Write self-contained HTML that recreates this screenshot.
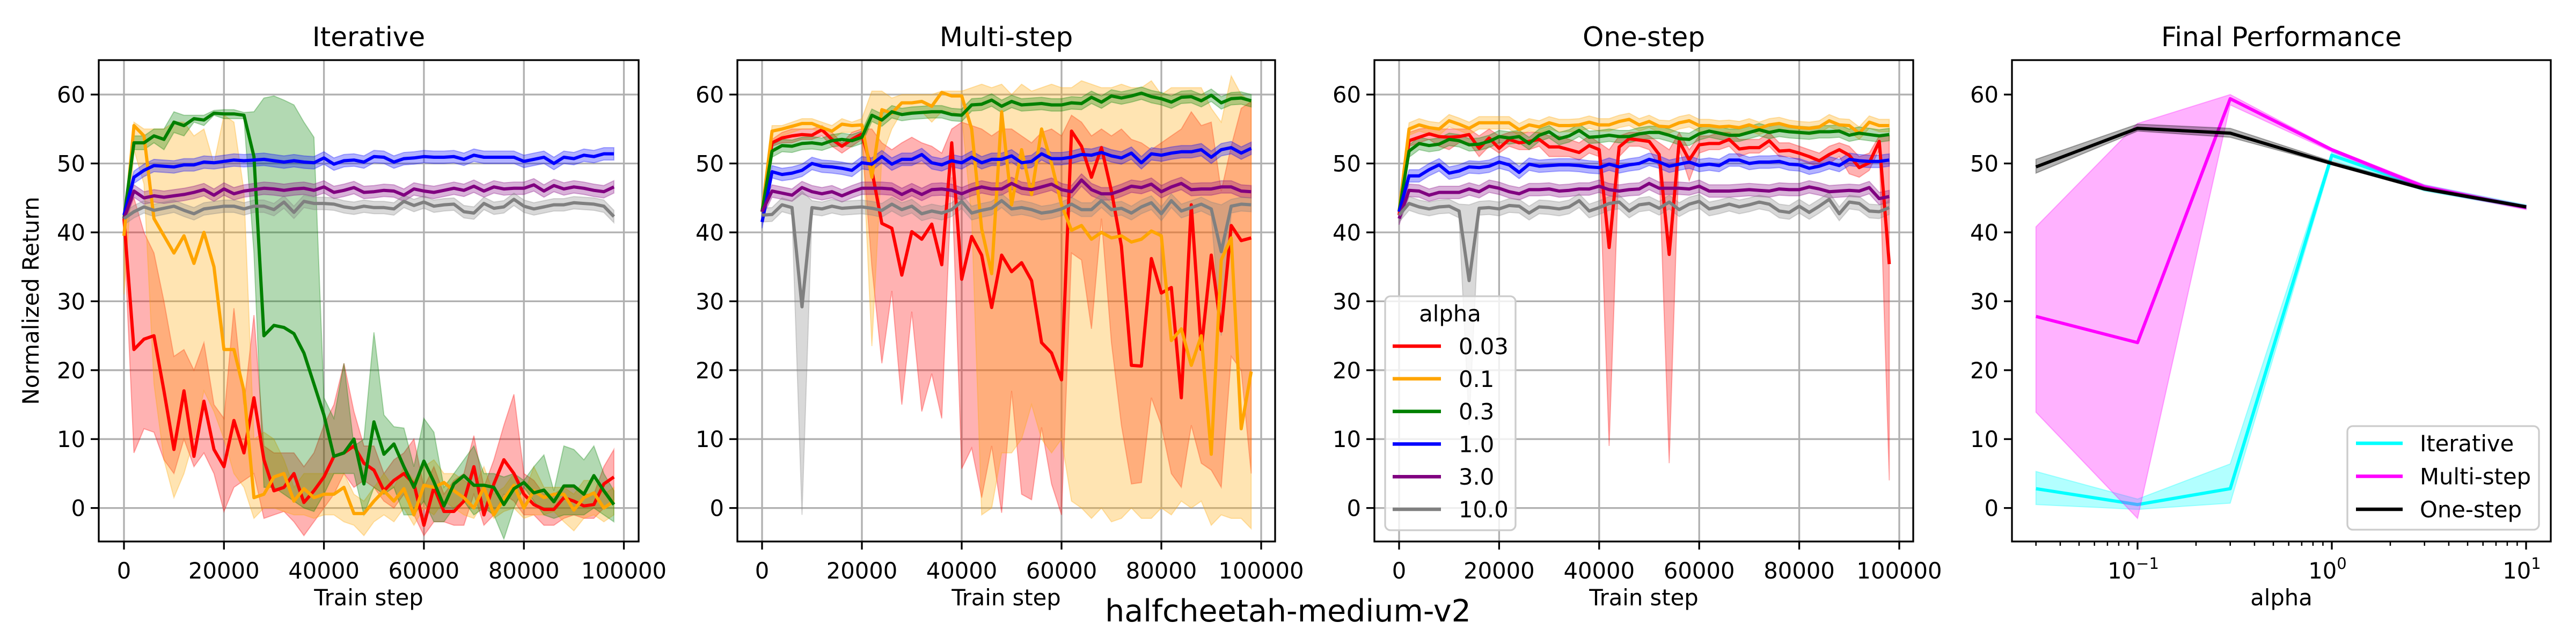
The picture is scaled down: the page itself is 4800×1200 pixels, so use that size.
<!DOCTYPE html>
<html><head><meta charset="utf-8">
<style>
html,body{margin:0;padding:0;background:#fff;}
svg{display:block;font-family:"DejaVu Sans","Liberation Sans",sans-serif;}
</style></head>
<body>
<svg id="fig" width="4800" height="1200" viewBox="0 0 4800 1200" xmlns="http://www.w3.org/2000/svg">
<rect width="4800" height="1200" fill="#fff"/>
<text x="2400" y="1158" font-size="57" text-anchor="middle">halfcheetah-medium-v2</text>
</svg>
<script>
// ---------- data ----------
const trainSteps = [0,2000,4000,6000,8000,10000,12000,14000,16000,18000,20000,22000,24000,26000,28000,30000,32000,34000,36000,38000,40000,42000,44000,46000,48000,50000,52000,54000,56000,58000,60000,62000,64000,66000,68000,70000,72000,74000,76000,78000,80000,82000,84000,86000,88000,90000,92000,94000,96000,98000];
const alphaNames = ["0.03","0.1","0.3","1.0","3.0","10.0"];
const xTicks = [0,20000,40000,60000,80000,100000];
const yTicks = [0,10,20,30,40,50,60];

// Iterative
const itRed = [42,23,24.5,25,17,8.5,17,7.5,15.5,8.5,6,12.7,8,16,7,2.5,3,5,0.8,2.5,4.5,7.5,8,9,6.5,5.5,2.5,4,5,3.5,-2.5,3,-0.5,-0.5,1,6,-1,3.5,7,5,2,0.5,-0.2,-0.2,1.5,1,0.3,0.5,3.5,4.5];
const itRedHi = [43,45,40,37,30,22,23,20,24,15,13,29,15,28,9,8,8,8,6,8,12,15,21,14,9,9,5,7,8,10,3,6,2,4,5,10.5,3,7,12,16.5,5,4,2,2,3,3,2,2,6,8.5];
const itRedLo = [40,8,11.5,11,7,5,10,6,8,5,-0.5,3,4,5,-1.5,-1,-0.5,-2,-4,-2,0,2,5,3,4,3,1,0,2,-1,-4,-2,-2,-2.5,-2.5,2,-2.5,-1,2,1,-1,-1,-2.5,-2.5,-1.5,-1,-1.5,-1.5,0,1];
const itOrange = [39.5,55.5,54,42,39.5,37,39.5,35.5,40,35,23,23,17,1.5,2,4.5,5,1,2.8,1.5,2,2,3,-0.8,-0.8,1,2.5,1,2.8,-1,3.3,3,3.7,2.5,1.5,0,3,-1,1.3,3.3,0,2.5,1.5,2,2,-0.3,1.5,2.2,0,1];
const itOrangeHi = [41,56,55,55,55,56,56,54,55,50,57,56,46,10,11,10,7,3,5,5,5,5,5,2,1,3,5,3,6,4,6,7,5,5,4,3,6,2,3,5,2,6,3,3,3,2,4,4,2,3];
const itOrangeLo = [31,52,47,18,7,1.5,5,10,17,14,10,5,3,-1.5,0,0,-0.5,-1,-1,-1.5,-1,-1,-2,-2.5,-4,-2,-1,-2,0,-2.5,0,-1,1,0,-1,-1.5,1,-1.5,-0.5,0,-1.5,-1,-1,-0.5,-2,-3.3,-1.5,-1,-2,-1];
const itGreen = [42,53,53,54,53.5,56,55.5,56.5,56.3,57.3,57.2,57.2,57,51,25,26.5,26.2,25.3,22.5,18,13.5,7.5,8,10,3.5,12.5,7.8,9.3,6,3,6.8,3.8,0.3,3.5,4.7,3.3,3.3,3,0.5,2.8,3.7,2.2,2.6,0.9,3.2,3.2,2,4.7,2.5,0.5];
const itGreenHi = [43,54,54,55,55,57.5,57,57,57,57.7,57.8,57.8,57.4,57.5,59.5,59.8,59.2,58.5,56,53.8,16,13,21,9,10,25.5,13.5,11.8,11.6,6,13,11,3,5,7,9,5,5,4.5,5,4,6,7.7,2.5,9,8.5,7,9,5,2.5];
const itGreenLo = [41,52,52,53,52,54.5,54,56,55.5,57,56.5,56.5,56.5,37,3,3,2,1,0,-0.5,2,5,5,5,-1,3,2,3,-1,-1,1,-2,-2,0,1,-1,0,-1,-4.5,0,3,1,-1,-1.5,-1,-1,-1,0,-1,-2];
const itBlue = [42.5,48,49,49.7,49.6,49.5,49.8,49.8,50.2,50.1,50.3,50.5,50.4,50.5,50.6,50.4,50.2,50.4,50.2,50.1,50.8,49.9,50.4,50.5,50.2,51,50.9,50.2,50.7,50.8,51,50.9,50.9,51,50.6,51.2,50.9,50.9,50.9,50.9,50.3,50.6,50.9,50,50.9,50.7,51.2,51,51.4,51.4];
const itPurple = [42,46,45,45.3,45.1,45.3,45.5,45.8,46.2,45.4,46.3,45.6,46,46.2,46.4,46.3,46.1,46.3,46.4,46.1,46.6,45.8,46.1,46.5,45.8,45.9,46.1,46,45.4,46.3,46,45.8,46.1,46.4,46.1,46.7,46,46.6,46.3,46.4,46.4,46.9,46,46.8,46.3,46.6,46.4,46.1,45.9,46.6];
const itGray = [42,43,43.7,43.2,43.5,43.8,43.2,42.7,43.4,43.6,43.8,43.8,43.4,43.8,43.8,43.3,44.4,42.9,44.5,44.2,44.2,44.1,43.7,43.5,43.8,43.6,43.6,43.4,44.5,43.9,44.4,43.8,44,44.1,43,42.8,44.2,43.5,43.7,44.8,43.8,43.4,43.7,44,44,44.3,44.2,44.1,43.8,42.3];

// Multi-step
const msRed = [43,53,53.7,54,54.2,54.1,54.9,53.5,52.5,53.5,54.3,49,41.3,40.6,33.8,40.1,39,41.2,35.3,53,33.2,39.4,36.7,29.1,36.7,34.3,35.6,33,24,22.5,18.6,54.7,52.5,48,52.3,46,38,20.7,20.6,36.2,31.2,32,16,44,23,36.7,25.7,41,38.8,39.2];
const msRedHi = [43,53.5,54.5,55,55,55,55.5,54.5,53,54.5,55,55,53,52,53,53.8,53,52.5,51.5,55,56,55.5,55,54,55,55,54,53,54.5,55,54,57,56,54,55,54,55,53.5,53,52,53,54,55,57.5,55.5,56,46,52.5,58,59];
const msRedLo = [43,52.5,53,53,53.5,53.5,54,52.5,51.5,52.5,53.5,35,21,31.5,15,28.5,14,19.5,13,48,5.7,8.7,1.5,9,-0.7,17,2,1.2,11.7,3.5,-1,37,36,26,42,24,12,3.5,3.7,16,12,5,3,12,6.5,5.5,3,22,20,5];
const msOrange = [43,54.7,55,55.4,55.8,55.8,55.2,54.7,55.7,55.5,55.6,48,57.8,57.3,58.8,58.8,59,58.3,60.3,59.8,59.8,55,40.5,34,57.5,44,52,45.5,55,50,44,40.3,41,39,40,39.2,39.5,38.6,39,40.2,39.5,24.3,26,20.7,25,7.8,36,39.2,11.5,19.8];
const msOrangeHi = [43,55.5,55.5,56,56.5,56.5,56,55.5,56.5,56,56.5,60.5,60.5,59.5,60,60,60,60,60.5,60.5,60.5,61,61.5,61,61.5,60,61.5,60.5,61,61.5,61,61,62,61.5,61,61,61.5,61,61,62,60,61,61,61,61,58,56,62.7,60,59];
const msOrangeLo = [43,53,54,54.5,55,55,54.5,53.5,54.5,54.5,55,23.5,51,55,57.5,57.5,57.5,56,57.5,57.5,57,42,-1,0,8,8,10,15,10,8,10,1,0,-1.5,0,-2,-1.5,0,-1.5,-1.5,0,-1,1,0,1,-2.5,-1,-1.5,-1.5,-3];
const msGreen = [43,51.8,52.6,52.5,52.9,53,52.8,53.3,53.5,53.3,53.8,57,56.3,57.5,57.1,57.3,57.4,57.5,57.5,57.1,57,58.5,58.6,59.2,58.3,59,58.5,58.6,58.7,58.5,58.5,58.8,58.7,59.6,58.9,59.8,59.5,59.8,60.2,59.7,59.4,58.9,59.6,59.7,59.1,59.9,58.8,59.4,59.5,59.1];
const msBlue = [41.5,48.8,48.4,48.6,49,50,49.6,49.5,49.3,49,50.1,49.9,51,49.9,50.6,50.6,51.3,50.1,49.8,50.4,50.1,50.9,50.1,50.6,50.6,51.1,50.1,50.3,51.4,50.7,50.7,50.9,51.3,51.2,51.6,51.1,50.8,51.5,50.1,51.4,51.2,51.5,51.7,51.7,52,50.9,52,52.3,51.5,52.2];
const msPurple = [43,46,45.7,45.4,46.5,45.9,45.6,45.9,45.3,45.9,46.4,46.4,46.4,46.3,45.5,46.2,45.5,46.2,46.3,46.1,45.6,46.2,46.6,46.3,46.3,47.1,46.4,46.2,46.6,47,46.2,45.9,47.6,46.2,45.6,45.6,46.1,46.7,46.5,47,45.9,46.6,47.1,46.2,46.3,46.3,46.6,46.6,46,45.9];
const msGray = [42.5,42.6,44,43.6,29.2,43.6,43.4,43.8,43.5,43.6,43.7,43.5,43.2,44.1,43.3,43.8,42.7,43.1,42.8,43.3,44.5,42.8,43.2,43.5,44.6,43.4,43.6,43.3,42.8,43,43.4,44.1,43.3,43.3,44.6,43.3,43.5,42.8,43.7,44.3,42.7,44.6,43.1,43.6,44.1,43.4,37.2,43.8,44.1,44];
const msGrayHi = [43.5,43.6,45,44.6,46,44.6,44.4,44.8,44.5,44.6,44.7,44.5,44.2,45.1,44.3,44.8,43.7,44.1,43.8,44.3,45.5,43.8,44.2,44.5,45.6,44.4,44.6,44.3,43.8,44,44.4,45.1,44.3,44.3,45.6,44.3,44.5,43.8,44.7,45.3,43.7,45.6,44.1,44.6,45.1,44.4,44,44.8,45.1,45];
const msGrayLo = [41.5,41.6,43,42.6,-1,42.6,42.4,42.8,42.5,42.6,42.7,42.5,42.2,43.1,42.3,42.8,41.7,42.1,41.8,42.3,43.5,41.8,42.2,42.5,43.6,42.4,42.6,42.3,41.8,42,42.4,43.1,42.3,42.3,43.6,42.3,42.5,41.8,42.7,43.3,41.7,43.6,42.1,42.6,43.1,42.4,25,42.8,43.1,43];

// One-step
const osRed = [42.5,53.3,53.8,54.3,53.9,53.8,53.9,54.2,52.2,53.7,52.2,53.5,53,53.2,53.5,52.4,52.4,52,51.6,52.6,52,37.8,52.4,53.6,53.4,53.2,51.3,36.8,53.2,50.5,52.7,52.9,52.9,53.5,52.1,52.3,52.3,53.3,51.8,51.9,51.5,51,50.4,51.3,52,51.2,49.4,50.1,53.2,35.4];
const osRedHi = [43,54.5,55,55.2,55,55,55,55,54,55,54,54.5,54.5,54.5,54.5,54,54,53.5,53,54,53,52,54,54.5,54.5,54,53,52,54.5,52,54,54,54.5,54.5,53.5,53.5,53.5,54.5,53,53,52.5,52,51.5,52.5,53,52.5,51,51.5,54,54];
const osRedLo = [42,52.5,53,53.5,52.5,52,53,53,51,52.5,51.5,52.5,52,52,52.5,51,51,51,50.5,51.5,51,9,51,52.5,52.5,52,49.5,6.5,52,47.5,51.5,52,52,52.5,51,51.5,51.5,52.5,51,51,50.5,50,49.5,50,51,48.5,48,49,52,4];
const osOrange = [43,55,55.6,55.2,55,56.2,55.7,55.1,55.9,55.9,55.9,55.9,54.9,55.6,55.3,55.9,55.5,55.5,55.6,56,55.6,55.6,56.1,56.4,55.6,56.1,55.4,55.3,55.9,56.2,55.5,55.5,55.3,55.4,55.2,55.6,55.1,55.6,55.8,55.4,55.2,55.1,55.3,56.2,55.6,55.5,54.4,56,55.5,55.5];
const osGreen = [43,51.8,52.9,52.6,52.8,53.5,53.3,52.7,52.8,53.2,53.9,53.7,53.9,52.9,54.1,54.6,53.6,54,54.8,53.8,53.9,54.1,53.9,53.9,54.3,54.5,54.5,54.1,53.6,53.5,54.3,54.7,54.4,54.1,54.1,54.5,54.9,54.5,54.8,54.6,54.5,54.4,54.6,54.6,54.7,54.1,54.4,54.2,54,54.2];
const osBlue = [43,48.2,48.2,49.1,49.8,48.6,48.9,49.5,49.4,49.6,50.2,49.8,48.7,49.9,49.6,49.7,49.8,49.8,49.7,49.5,49.4,49.9,49.5,49.8,50,50.6,50.2,49.6,49.9,50.2,49.7,49.9,49.7,50.5,50.5,50,50.2,50.2,50.3,49.9,49.8,49.3,49.6,50.1,49.7,50.6,50.4,50.3,50.3,50.5];
const osPurple = [42,46.1,46,45.4,45.8,45.8,45.8,46.3,45.9,46.7,46.4,45.9,45.6,46.2,46.2,46.3,46,46.1,46.3,46.3,46.7,46.2,46,46.2,46.3,47.1,46.4,46.4,46.4,46.3,46.7,46,46,46,46.1,46.2,46.1,46,46.3,46.2,46.2,46.6,46.3,45.9,46,46.1,46,46.5,44.9,45.2];
const osGray = [42.5,44.2,43.7,43.4,43.7,43.8,43.1,33,43.5,43.6,43.4,43.9,43.8,42.8,43.7,43.6,43.4,43.7,44.6,43.1,43.6,44.2,44.4,43.1,44,44.2,43.5,44.4,43.3,44.1,44.5,43.4,43.7,44.1,43.7,44,44.4,44.1,43.1,42.9,43.8,42.9,43.8,44.8,42.7,44.4,44.2,43.1,43,43.6];
const osGrayHi = [43.5,45.2,44.7,44.4,44.7,44.8,44.1,44,44.5,44.6,44.4,44.9,44.8,43.8,44.7,44.6,44.4,44.7,45.6,44.1,44.6,45.2,45.4,44.1,45,45.2,44.5,45.4,44.3,45.1,45.5,44.4,44.7,45.1,44.7,45,45.4,45.1,44.1,43.9,44.8,43.9,44.8,45.8,43.7,45.4,45.2,44.1,44,44.6];
const osGrayLo = [41.5,43.2,42.7,42.4,42.7,42.8,42.1,12,42.5,42.6,42.4,42.9,42.8,41.8,42.7,42.6,42.4,42.7,43.6,42.1,42.6,43.2,43.4,42.1,43,43.2,42.5,43.4,42.3,43.1,43.5,42.4,42.7,43.1,42.7,43,43.4,43.1,42.1,41.9,42.8,41.9,42.8,43.8,41.7,43.4,43.2,42.1,42,42.6];

// Final performance
const finalAlphas = [0.03,0.1,0.3,1,3,10];
const finIter = [2.8,0.5,2.8,51.2,46.5,43.7];
const finIterLo = [0.5,-0.2,0.7,50.5,46,43.4];
const finIterHi = [5.3,1.3,6.4,51.7,46.9,44];
const finMulti = [27.8,24,59.4,52,46.6,43.6];
const finMultiLo = [13.9,-1.5,58.5,51.7,46.2,43.3];
const finMultiHi = [40.8,55.8,60,52.2,46.9,43.9];
const finOne = [49.5,55.1,54.4,50,46.3,43.7];
const finOneLo = [48.6,54.7,53.8,49.8,46.1,43.5];
const finOneHi = [50.6,55.7,55.1,50.3,46.6,43.9];
const errSmall = 0.9;

// ---------- drawing ----------
const NS = "http://www.w3.org/2000/svg";
const fig = document.getElementById('fig');
function mk(tag, attrs, parent){
  const e = document.createElementNS(NS, tag);
  for (const k in attrs) e.setAttribute(k, attrs[k]);
  (parent||fig).appendChild(e);
  return e;
}
const Y0 = 946.6, YPER = 12.84;
const TOP = 112, BOT = 1009;
function yPix(v){ return Y0 - v*YPER; }

const COLORS = ["#ff0000","#ffa500","#008000","#0000ff","#800080","#808080"];

function drawAxesFrame(g, L, R, title, titleName){
  const t = mk('text',{x:(L+R)/2,y:86,'font-size':50,'text-anchor':'middle'},g);
  t.textContent = title;
  
  
}
function yAxis(g, L, R, grid){
  yTicks.forEach(v=>{
    const y = yPix(v);
    if (grid){
      const gl = mk('line',{x1:L,x2:R,y1:y,y2:y,stroke:'#b0b0b0','stroke-width':3.3},g);
      
      
    }
    mk('line',{x1:L-15,x2:L,y1:y,y2:y,stroke:'#000','stroke-width':3.3},g);
    const t = mk('text',{x:L-25,y:y+15,'font-size':41.7,'text-anchor':'end'},g);
    t.textContent = v;
    
    
  });
}
function clipFor(id,L,R){
  const cp = mk('clipPath',{id:id});
  mk('rect',{x:L,y:TOP,width:R-L,height:BOT-TOP},cp);
}
function band(g, xs, lo, hi, color, clip){
  let d = '';
  for (let i=0;i<xs.length;i++) d += (i?'L':'M')+xs[i].toFixed(1)+','+yPix(hi[i]).toFixed(1);
  for (let i=xs.length-1;i>=0;i--) d += 'L'+xs[i].toFixed(1)+','+yPix(lo[i]).toFixed(1);
  d += 'Z';
  return mk('path',{d:d,fill:color,'fill-opacity':0.3,stroke:color,'stroke-opacity':0.3,'stroke-width':2,'clip-path':'url(#'+clip+')'},g);
}
function line(g, xs, ys, color, clip){
  let d='';
  for (let i=0;i<xs.length;i++) d += (i?'L':'M')+xs[i].toFixed(1)+','+yPix(ys[i]).toFixed(1);
  return mk('path',{d:d,fill:'none',stroke:color,'stroke-width':6,'stroke-linejoin':'round','clip-path':'url(#'+clip+')'},g);
}

function stepPanel(idx, L, R, X0, X100, title, series, showYLabel){
  const g = mk('g',{});
  
  
  const xPix = v => X0 + v/100000*(X100-X0);
  const cid = 'clip'+idx;
  clipFor(cid,L,R);
  drawAxesFrame(g,L,R,title,'panel-title-'+title.toLowerCase());
  xTicks.forEach(v=>{
    const x = xPix(v);
    const gl = mk('line',{x1:x,x2:x,y1:TOP,y2:BOT,stroke:'#b0b0b0','stroke-width':3.3},g);
    
    
    mk('line',{x1:x,x2:x,y1:BOT,y2:BOT+15,stroke:'#000','stroke-width':3.3},g);
    const t = mk('text',{x:x,y:1078,'font-size':41.7,'text-anchor':'middle'},g);
    t.textContent = v;
    
    
  });
  yAxis(g,L,R,true);
  const xs = trainSteps.map(xPix);
  series.forEach((s,i)=>{
    const lo = s.lo || s.mean.map(v=>v-errSmall);
    const hi = s.hi || s.mean.map(v=>v+errSmall);
    const b = band(g, xs, lo, hi, COLORS[i], cid);
    
    
  });
  series.forEach((s,i)=>{
    const l = line(g, xs, s.mean, COLORS[i], cid);
    
    
  });
  const fr = mk('rect',{x:L,y:TOP,width:R-L,height:BOT-TOP,fill:'none',stroke:'#000','stroke-width':3.3},g);
  
  
  const xl = mk('text',{x:(L+R)/2,y:1128,'font-size':41.7,'text-anchor':'middle'},g);
  xl.textContent = 'Train step';
  
  
  if (showYLabel){
    const yl = mk('text',{x:0,y:0,'font-size':41.7,'text-anchor':'middle',transform:'translate(72,'+((TOP+BOT)/2)+') rotate(-90)'},g);
    yl.textContent = 'Normalized Return';
    
    
  }
  return g;
}

stepPanel(1, 184, 1190, 231, 1162.5, 'Iterative', [
  {mean:itRed, lo:itRedLo, hi:itRedHi},
  {mean:itOrange, lo:itOrangeLo, hi:itOrangeHi},
  {mean:itGreen, lo:itGreenLo, hi:itGreenHi},
  {mean:itBlue},{mean:itPurple},{mean:itGray}], true);
stepPanel(2, 1374, 2376, 1420, 2350, 'Multi-step', [
  {mean:msRed, lo:msRedLo, hi:msRedHi},
  {mean:msOrange, lo:msOrangeLo, hi:msOrangeHi},
  {mean:msGreen},{mean:msBlue},{mean:msPurple},
  {mean:msGray, lo:msGrayLo, hi:msGrayHi}], false);
const p3 = stepPanel(3, 2561, 3565, 2607, 3539, 'One-step', [
  {mean:osRed, lo:osRedLo, hi:osRedHi},
  {mean:osOrange},{mean:osGreen},{mean:osBlue},{mean:osPurple},
  {mean:osGray, lo:osGrayLo, hi:osGrayHi}], false);

// legend alpha
(function(){
  const lg = mk('g',{},p3);
  
  
  mk('rect',{x:2581,y:552,width:243,height:436,rx:10,fill:'#fff','fill-opacity':0.8,stroke:'#cccccc','stroke-width':3.3},lg);
  const tt = mk('text',{x:2702,y:599,'font-size':41.7,'text-anchor':'middle'},lg);
  tt.textContent = 'alpha';
  
  
  alphaNames.forEach((a,i)=>{
    const y = 645 + i*60.8;
    const e = mk('g',{},lg);
    
    
    mk('line',{x1:2595,x2:2685,y1:y,y2:y,stroke:COLORS[i],'stroke-width':6.5},e);
    const t = mk('text',{x:2718,y:y+15,'font-size':41.7},e);
    t.textContent = a;
  });
})();

// Final performance panel
(function(){
  const L=3749, R=4753;
  const D0 = 4345, DEC = 362;
  const xPix = a => D0 + Math.log10(a)*DEC;
  const g = mk('g',{});
  
  
  clipFor('clip4',L,R);
  drawAxesFrame(g,L,R,'Final Performance','panel-title-final-performance');
  yAxis(g,L,R,false);
  for (let e=-2;e<=1;e++) for (let m=2;m<=9;m++){
    const x = xPix(m*Math.pow(10,e));
    if (x<L||x>R) continue;
    mk('line',{x1:x,x2:x,y1:BOT,y2:BOT+8,stroke:'#000','stroke-width':2.5},g);
  }
  [-1,0,1].forEach(e=>{
    const x = xPix(Math.pow(10,e));
    mk('line',{x1:x,x2:x,y1:BOT,y2:BOT+15,stroke:'#000','stroke-width':3.3},g);
    const t = mk('text',{x:x-8,y:1078,'font-size':41.7,'text-anchor':'middle'},g);
    
    
    t.textContent = '10';
    const sup = mk('tspan',{dy:-18,'font-size':29},t);
    sup.textContent = e<0 ? '\u22121' : String(e);
  });
  const xs = finalAlphas.map(xPix);
  const fs = [
    {m:finIter, lo:finIterLo, hi:finIterHi, c:'#00ffff', n:'iterative'},
    {m:finMulti, lo:finMultiLo, hi:finMultiHi, c:'#ff00ff', n:'multi-step'},
    {m:finOne, lo:finOneLo, hi:finOneHi, c:'#000000', n:'one-step'}];
  fs.forEach(s=>{
    const b = band(g, xs, s.lo, s.hi, s.c, 'clip4');
    
    
    const l = line(g, xs, s.m, s.c, 'clip4');
    
    
  });
  const fr = mk('rect',{x:L,y:TOP,width:R-L,height:BOT-TOP,fill:'none',stroke:'#000','stroke-width':3.3},g);
  
  
  const xl = mk('text',{x:(L+R)/2,y:1128,'font-size':41.7,'text-anchor':'middle'},g);
  xl.textContent = 'alpha';
  
  
  const lg = mk('g',{},g);
  
  
  mk('rect',{x:4374,y:794,width:357,height:193,rx:10,fill:'#fff','fill-opacity':0.8,stroke:'#cccccc','stroke-width':3.3},lg);
  ['Iterative','Multi-step','One-step'].forEach((n,i)=>{
    const y = 826 + i*61.5;
    const e = mk('g',{},lg);
    
    
    mk('line',{x1:4390,x2:4477,y1:y,y2:y,stroke:fs[i].c,'stroke-width':6.5},e);
    const t = mk('text',{x:4509,y:y+15,'font-size':41.7},e);
    t.textContent = n;
  });
})();
</script>
</body></html>
